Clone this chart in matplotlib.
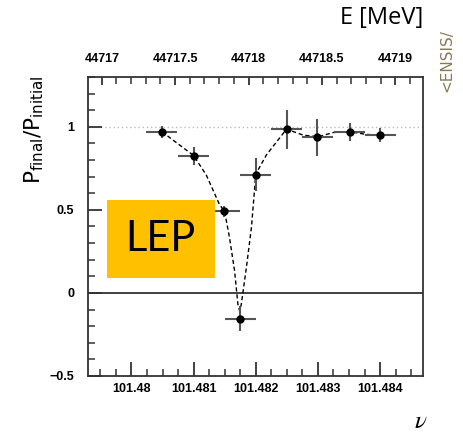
import matplotlib
matplotlib.use('Agg')
from matplotlib import pyplot as plt
from matplotlib.patches import Rectangle
from matplotlib.ticker import MultipleLocator, FixedLocator, FixedFormatter

# measured points (spin tune nu, polarisation ratio)
nu = [101.48049, 101.48100, 101.48149, 101.48175, 101.48200,
      101.48250, 101.48299, 101.48351, 101.48400]
p_ratio = [0.970, 0.826, 0.491, -0.154, 0.711, 0.984, 0.936, 0.968, 0.950]
nu_err = [0.00025] * 9
p_err = [0.035, 0.054, 0.035, 0.077, 0.100, 0.118, 0.109, 0.054, 0.042]

# dashed fit curve
curve_nu = [101.480491, 101.480997, 101.481202, 101.481417, 101.481498,
            101.481578, 101.481659, 101.481712, 101.481740, 101.481767,
            101.481848, 101.481929, 101.481982, 101.481998, 101.482171,
            101.482494, 101.482763, 101.483005, 101.483247, 101.483517,
            101.483787, 101.484002]
curve_p = [0.970, 0.828, 0.711, 0.531, 0.491, 0.331, 0.132, -0.068, -0.108,
           -0.068, 0.151, 0.391, 0.631, 0.714, 0.831, 0.986, 0.950, 0.940,
           0.966, 0.970, 0.954, 0.950]

x_ticks = [101.480, 101.481, 101.482, 101.483, 101.484]
x_labels = ['101.48', '101.481', '101.482', '101.483', '101.484']
y_ticks = [-0.5, 0, 0.5, 1]
y_labels = ['\u22120.5', '0', '0.5', '1']
e_ticks = [44717, 44717.5, 44718, 44718.5, 44719]
e_labels = ['44717', '44717.5', '44718', '44718.5', '44719']

# linear map nu -> beam energy as drawn on the top axis
NU0, E0, SCALE = 101.48, 44717.2025, 423.5


def nu_to_e(x):
    return E0 + (x - NU0) * SCALE


def e_to_nu(e):
    return NU0 + (e - E0) / SCALE


def main():
    fig = plt.figure(figsize=(4.63, 4.38), dpi=100)
    ax = fig.add_axes([0.190, 0.1416, 0.7236, 0.6826])

    tick_font = dict(family='Liberation Sans', weight='bold', size=9)

    ax.axhline(1, color='#bbbbbb', lw=1, ls=(0, (1, 2)), zorder=1)
    ax.axhline(0, color='#333333', lw=1.3, zorder=1)

    ax.plot(curve_nu, curve_p, color='black', lw=1, dashes=(3, 2), zorder=2)
    ax.errorbar(nu, p_ratio, xerr=nu_err, yerr=p_err, fmt='o', color='black',
                ms=5, ecolor='#555555', elinewidth=1.5, capsize=0, zorder=3)

    ax.set_xlim(101.4793, 101.48469)
    ax.set_ylim(-0.5, 1.3)

    ax.xaxis.set_major_locator(FixedLocator(x_ticks))
    ax.xaxis.set_major_formatter(FixedFormatter(x_labels))
    ax.xaxis.set_minor_locator(MultipleLocator(0.00025))
    ax.yaxis.set_major_locator(FixedLocator(y_ticks))
    ax.yaxis.set_major_formatter(FixedFormatter(y_labels))
    ax.yaxis.set_minor_locator(MultipleLocator(0.1))

    ax.tick_params(axis='both', which='both', direction='in', color='#333333',
                   top=False, right=False)
    ax.tick_params(axis='both', which='major', length=10, width=1.3)
    ax.tick_params(axis='both', which='minor', length=5, width=1.1)
    ax.tick_params(axis='x', pad=5)
    ax.tick_params(axis='y', pad=10)
    for lab in ax.get_xticklabels() + ax.get_yticklabels():
        lab.set_fontproperties(tick_font)

    for sp in ax.spines.values():
        sp.set_color('#333333')
        sp.set_linewidth(1.3)

    top = ax.secondary_xaxis('top', functions=(nu_to_e, e_to_nu))
    top.xaxis.set_major_locator(FixedLocator(e_ticks))
    top.xaxis.set_major_formatter(FixedFormatter(e_labels))
    top.xaxis.set_minor_locator(MultipleLocator(0.1))
    top.tick_params(which='both', direction='in', color='#333333', pad=9)
    top.tick_params(which='major', length=6, width=1.3)
    top.tick_params(which='minor', length=5, width=1.1)
    top.spines['top'].set_visible(False)
    for lab in top.get_xticklabels():
        lab.set_fontproperties(tick_font)

    # LEP label box sits above the axes
    fig.patches.append(Rectangle((0.2305, 0.366), 0.234, 0.1774,
                                 transform=fig.transFigure,
                                 facecolor='#FFC000', edgecolor='none',
                                 zorder=5))
    fig.text(0.3473, 0.455, 'LEP', family='Lato', size=30,
             ha='center', va='center', zorder=6)

    fig.text(0.0734, 0.705, r'$\mathrm{P}_{\mathrm{final}}/\mathrm{P}_{\mathrm{initial}}$',
             rotation=90, ha='center', va='center', size=15.5)
    fig.text(0.9136, 0.959, 'E [MeV]', family='Open Sans', size=17,
             ha='right', va='center')
    fig.text(0.909, 0.0377, r'$\nu$', math_fontfamily='stix', size=18,
             ha='center', va='center')
    fig.text(0.9655, 0.861, '<ENSIS/', rotation=90, color='#8a7a5a',
             size=11, ha='center', va='center')

    fig.savefig('out.png', dpi=100)


if __name__ == "__main__":
    main()
